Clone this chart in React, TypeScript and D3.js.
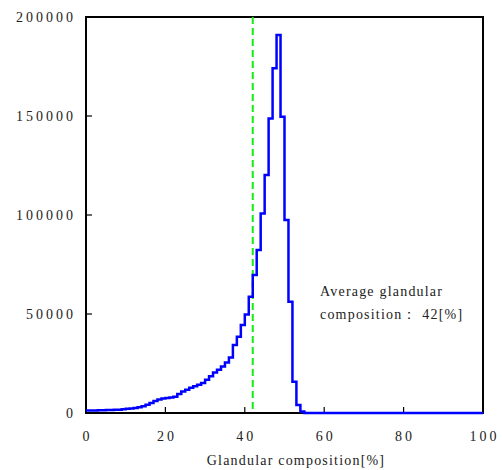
import React from "react";
import * as d3 from "d3";

const binEdges: number[] = d3.range(0, 101);
const counts: number[] = [
  1300, 1300, 1300, 1400, 1400, 1500, 1500, 1600, 1700, 1900,
  2100, 2300, 2500, 2900, 3400, 4200, 5000, 6000, 6800, 7300,
  7600, 7800, 8200, 9600, 10800, 11800, 12700, 13500, 14300, 15200,
  16800, 18600, 20500, 21800, 23500, 25500, 28000, 34300, 38500, 44400,
  49800, 58700, 69700, 82300, 100800, 120200, 148800, 174100, 190900, 149600,
  97500, 56200, 15800, 4000, 700, 0, 0, 0, 0, 0,
  0, 0, 0, 0, 0, 0, 0, 0, 0, 0,
  0, 0, 0, 0, 0, 0, 0, 0, 0, 0,
  0, 0, 0, 0, 0, 0, 0, 0, 0, 0,
  0, 0, 0, 0, 0, 0, 0, 0, 0, 0,
];
const xTicks: number[] = [0, 20, 40, 60, 80, 100];
const yTicks: number[] = [0, 50000, 100000, 150000, 200000];
const averageValue = 42;
const xTitle = "Glandular composition[%]";
const noteLines: string[] = ["Average glandular", "composition\uFF1A 42[%]"];

const W = 502;
const H = 470;
const L = 86;
const R = 483;
const T = 17;
const B = 413;

export default function App() {
  const x = d3.scaleLinear().domain([0, 100]).range([L, R]);
  const y = d3.scaleLinear().domain([0, 200000]).range([B, T]);
  const pts: [number, number][] = counts.map((c, i) => [binEdges[i], c]);
  pts.push([binEdges[binEdges.length - 1], counts[counts.length - 1]]);
  const line = d3
    .line<[number, number]>()
    .x((d) => x(d[0]))
    .y((d) => y(d[1]))
    .curve(d3.curveStepAfter);
  const ls = 3;
  const txt: React.CSSProperties = {
    fontFamily: '"Liberation Serif", "Times New Roman", serif',
    fontSize: 14,
    fill: "#222",
  };
  return (
    <svg
      width={W}
      height={H}
      style={{ position: "absolute", left: 0, top: 0, background: "#fff" }}
    >
      <rect x={L} y={T} width={R - L} height={B - T} fill="none" stroke="#000" strokeWidth={2} />
      {xTicks.slice(1, -1).map((t) => (
        <line key={"xt" + t} x1={x(t)} x2={x(t)} y1={B} y2={B - 6} stroke="#000" strokeWidth={1.2} />
      ))}
      {yTicks.slice(1, -1).map((t) => (
        <line key={"yt" + t} x1={L} x2={L + 6} y1={y(t)} y2={y(t)} stroke="#000" strokeWidth={1.2} />
      ))}
      {xTicks.map((t) => (
        <text
          key={"xl" + t}
          x={x(t) + ls / 2}
          y={441}
          textAnchor="middle"
          letterSpacing={ls}
          style={txt}
        >
          {t}
        </text>
      ))}
      {yTicks.map((t) => (
        <text
          key={"yl" + t}
          x={73 + ls}
          y={y(t) + 5}
          textAnchor="end"
          letterSpacing={ls}
          style={txt}
        >
          {t}
        </text>
      ))}
      <text
        x={(203 + 389) / 2}
        y={465}
        textAnchor="middle"
        letterSpacing={1.2}
        style={txt}
      >
        {xTitle}
      </text>
      <line
        x1={x(averageValue)}
        x2={x(averageValue)}
        y1={T}
        y2={B}
        stroke="#11ee11"
        strokeWidth={2}
        strokeDasharray="7,4"
      />
      <path d={line(pts) || ""} fill="none" stroke="#0000ff" strokeWidth={2.5} />
      {noteLines.map((s, i) => (
        <text
          key={"n" + i}
          x={320}
          y={296 + i * 23}
          letterSpacing={1.2}
          style={txt}
        >
          {s}
        </text>
      ))}
    </svg>
  );
}
